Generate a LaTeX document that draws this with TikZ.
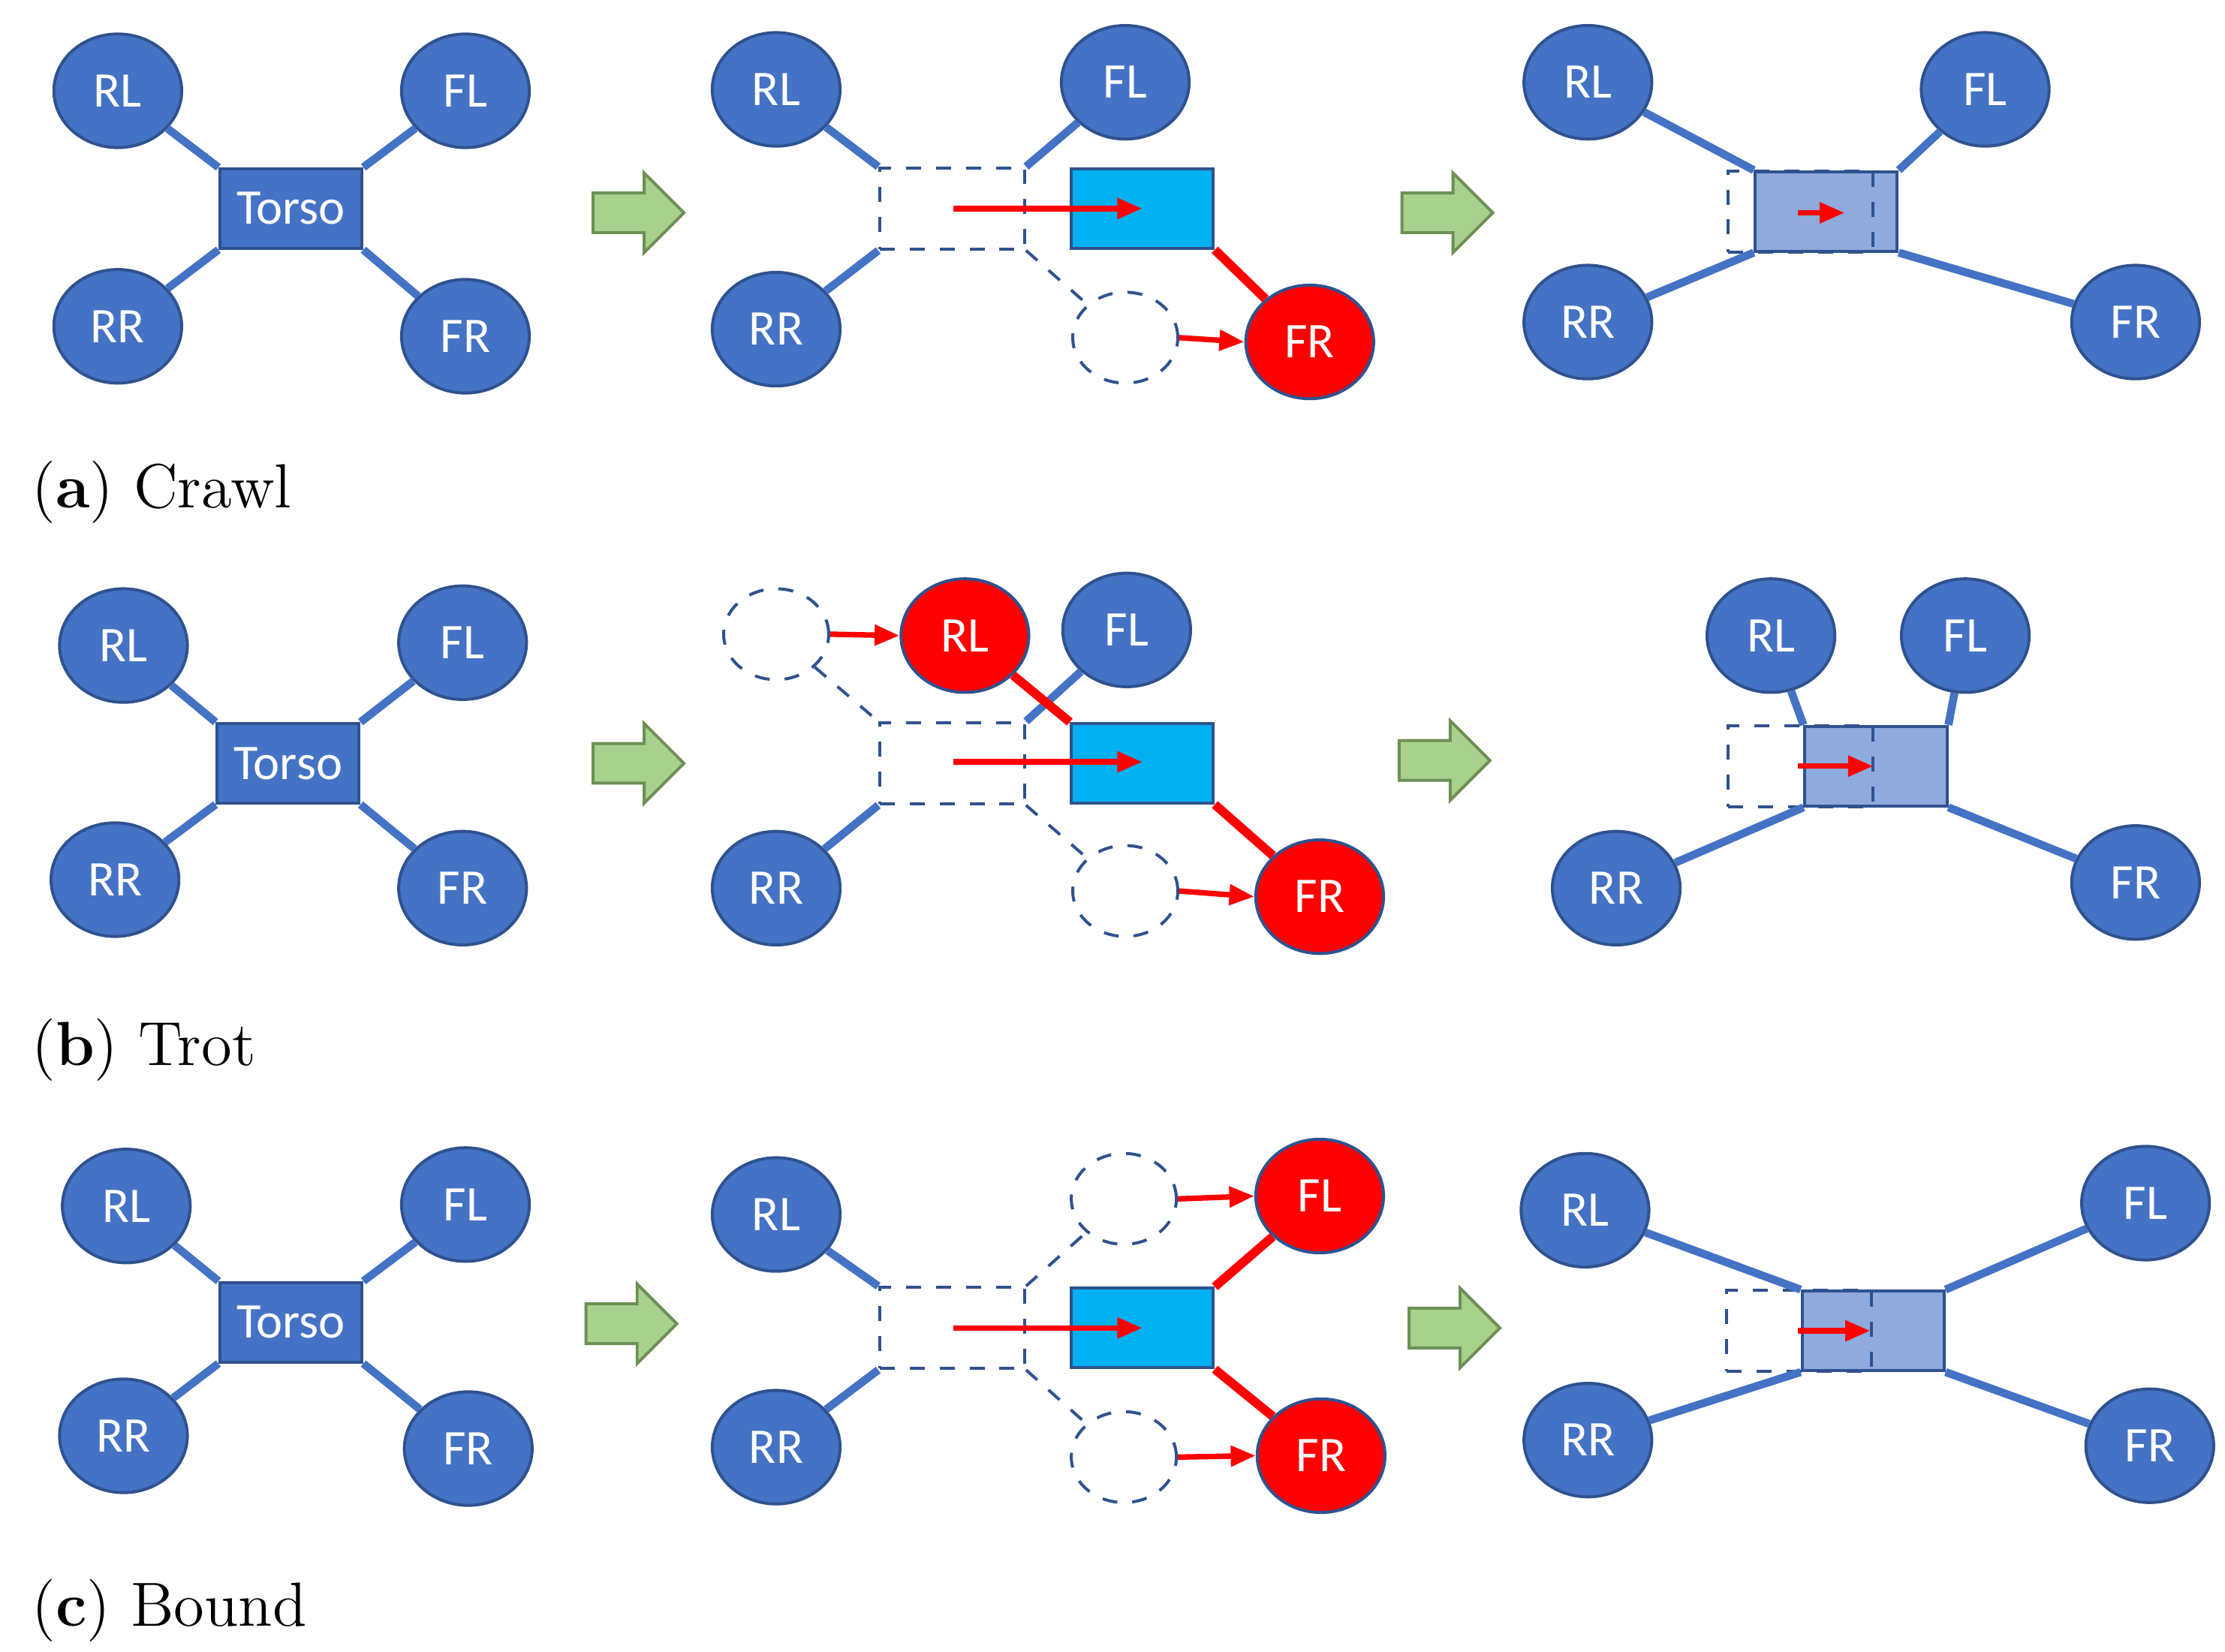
\documentclass[tikz,border=0pt]{standalone}
\usepackage{fontspec}
\newfontfamily\lab{Carlito}
\usetikzlibrary{shapes.geometric,arrows.meta}
\definecolor{bl}{HTML}{4472C4}
\definecolor{bd}{HTML}{2F528F}
\definecolor{cy}{HTML}{00B0F0}
\definecolor{lb}{HTML}{8FAADC}
\definecolor{gr}{HTML}{A9D18E}
\definecolor{gb}{HTML}{6E8F55}
\tikzset{
 leg/.style={ellipse,fill=bl,draw=bd,line width=0.6pt,minimum width=0.9cm,minimum height=0.8cm,text=white,font=\lab\fontsize{10}{12}\selectfont,inner sep=0pt},
 rleg/.style={leg,fill=red},
 dleg/.style={ellipse,draw=bd,dashed,line width=0.6pt,minimum width=0.74cm,minimum height=0.64cm},
 torso/.style={rectangle,fill=bl,draw=bd,line width=0.6pt,minimum width=1.0cm,minimum height=0.56cm,text=white,font=\lab\fontsize{10}{12}\selectfont,inner sep=0pt},
 cbox/.style={rectangle,fill=cy,draw=bd,line width=0.6pt,minimum width=1.0cm,minimum height=0.56cm},
 lbox/.style={rectangle,fill=lb,draw=bd,line width=0.6pt,minimum width=1.0cm,minimum height=0.56cm},
 dbox/.style={rectangle,draw=bd,dashed,line width=0.6pt,minimum width=1.02cm,minimum height=0.57cm},
 limb/.style={draw=bl,line width=1.6pt},
 rlimb/.style={draw=red,line width=1.8pt},
 dlimb/.style={draw=bd,dashed,line width=0.6pt},
 rarr/.style={draw=red,line width=1.1pt,-{Triangle[length=5pt,width=4pt]}},
 captxt/.style={anchor=west,font=\fontsize{12.5}{14}\selectfont},
 garrow/.pic={\fill[gr,draw=gb,line width=0.6pt] (0,-14)--(36,-14)--(36,-28)--(64,0)--(36,28)--(36,14)--(0,14)--cycle;}
}
\begin{document}
\begin{tikzpicture}[x=0.01cm,y=-0.01cm]
\useasboundingbox (0,0) rectangle (1568,1164);
% ===== (a)
\node[torso] (aT) at (205,147) {Torso};
\node[leg] (a1) at (83,64) {RL}; \node[leg] (a2) at (328,64) {FL};
\node[leg] (a3) at (83,230) {RR}; \node[leg] (a4) at (328,237) {FR};
\draw[limb] (a1)--(aT.north west); \draw[limb] (a2)--(aT.north east);
\draw[limb] (a3)--(aT.south west); \draw[limb] (a4)--(aT.south east);
\pic at (418,150) {garrow};
\node[dbox] (aD) at (671,147) {}; \node[cbox] (aC) at (805,147) {};
\node[leg] (b1) at (547,63) {RL}; \node[leg] (b2) at (793,58) {FL};
\node[leg] (b3) at (547,232) {RR}; \node[dleg] (bd4) at (793,238) {};
\node[rleg] (b4) at (923,241) {FR};
\draw[limb] (b1)--(aD.north west); \draw[limb] (b2)--(aD.north east);
\draw[limb] (b3)--(aD.south west); \draw[dlimb] (aD.south east)--(bd4);
\draw[rlimb] (aC.south east)--(b4);
\draw[rarr] (672,147)--(805,147); \draw[rarr] (bd4.east)--(b4.west);
\pic at (988,150) {garrow};
\node[lbox] (aL) at (1287,149) {}; \node[dbox] (aE) at (1269,149) {};
\node[leg] (c1) at (1119,58) {RL}; \node[leg] (c2) at (1399,63) {FL};
\node[leg] (c3) at (1119,227) {RR}; \node[leg] (c4) at (1505,227) {FR};
\draw[limb] (c1)--(aL.north west); \draw[limb] (c2)--(aL.north east);
\draw[limb] (c3)--(aL.south west); \draw[limb] (c4)--(aL.south east);
\draw[rarr] (1267,150)--(1300,150);
\node[captxt] at (10,347) {(\textbf{a}) Crawl};
% ===== (b)
\node[torso] (bT) at (203,538) {Torso};
\node[leg] (e1) at (87,455) {RL}; \node[leg] (e2) at (326,453) {FL};
\node[leg] (e3) at (81,620) {RR}; \node[leg] (e4) at (326,626) {FR};
\draw[limb] (e1)--(bT.north west); \draw[limb] (e2)--(bT.north east);
\draw[limb] (e3)--(bT.south west); \draw[limb] (e4)--(bT.south east);
\pic at (418,538) {garrow};
\node[dbox] (bD) at (671,538) {}; \node[cbox] (bC) at (805,538) {};
\node[dleg] (fd1) at (547,447) {}; \node[rleg] (f1) at (680,448) {RL};
\node[leg] (f2) at (794,444) {FL};
\node[leg] (f3) at (547,626) {RR}; \node[dleg] (fd4) at (793,628) {};
\node[rleg] (f4) at (930,632) {FR};
\draw[dlimb] (fd1)--(bD.north west); \draw[limb] (f2)--(bD.north east);
\draw[limb] (f3)--(bD.south west); \draw[dlimb] (bD.south east)--(fd4);
\draw[rlimb] (f1)--(bC.north west); \draw[rlimb] (bC.south east)--(f4);
\draw[rarr] (672,537)--(805,537);
\draw[rarr] (fd1.east)--(f1.west); \draw[rarr] (fd4.east)--(f4.west);
\pic at (986,536) {garrow};
\node[lbox] (bL) at (1322,540) {}; \node[dbox] (bE) at (1269,540) {};
\node[leg] (g1) at (1248,448) {RL}; \node[leg] (g2) at (1385,448) {FL};
\node[leg] (g3) at (1139,626) {RR}; \node[leg] (g4) at (1505,622) {FR};
\draw[limb] (g1)--(bL.north west); \draw[limb] (g2)--(bL.north east);
\draw[limb] (g3)--(bL.south west); \draw[limb] (g4)--(bL.south east);
\draw[rarr] (1267,540)--(1320,540);
\node[captxt] at (10,740) {(\textbf{b}) Trot};
% ===== (c)
\node[torso] (cT) at (205,932) {Torso};
\node[leg] (h1) at (89,850) {RL}; \node[leg] (h2) at (328,849) {FL};
\node[leg] (h3) at (87,1012) {RR}; \node[leg] (h4) at (330,1021) {FR};
\draw[limb] (h1)--(cT.north west); \draw[limb] (h2)--(cT.north east);
\draw[limb] (h3)--(cT.south west); \draw[limb] (h4)--(cT.south east);
\pic at (413,933) {garrow};
\node[dbox] (cD) at (671,936) {}; \node[cbox] (cC) at (805,936) {};
\node[leg] (i1) at (547,856) {RL}; \node[dleg] (id2) at (792,845) {};
\node[rleg] (i2) at (930,843) {FL};
\node[leg] (i3) at (547,1020) {RR}; \node[dleg] (id4) at (792,1027) {};
\node[rleg] (i4) at (931,1026) {FR};
\draw[limb] (i1)--(cD.north west); \draw[dlimb] (cD.north east)--(id2);
\draw[limb] (i3)--(cD.south west); \draw[dlimb] (cD.south east)--(id4);
\draw[rlimb] (cC.north east)--(i2); \draw[rlimb] (cC.south east)--(i4);
\draw[rarr] (672,936)--(805,936);
\draw[rarr] (id2.east)--(i2.west); \draw[rarr] (id4.east)--(i4.west);
\pic at (993,936) {garrow};
\node[lbox] (cL) at (1320,938) {}; \node[dbox] (cE) at (1268,938) {};
\node[leg] (j1) at (1117,853) {RL}; \node[leg] (j2) at (1512,848) {FL};
\node[leg] (j3) at (1119,1015) {RR}; \node[leg] (j4) at (1515,1019) {FR};
\draw[limb] (j1)--(cL.north west); \draw[limb] (j2)--(cL.north east);
\draw[limb] (j3)--(cL.south west); \draw[limb] (j4)--(cL.south east);
\draw[rarr] (1267,938)--(1318,938);
\node[captxt] at (10,1135) {(\textbf{c}) Bound};
\end{tikzpicture}
\end{document}
